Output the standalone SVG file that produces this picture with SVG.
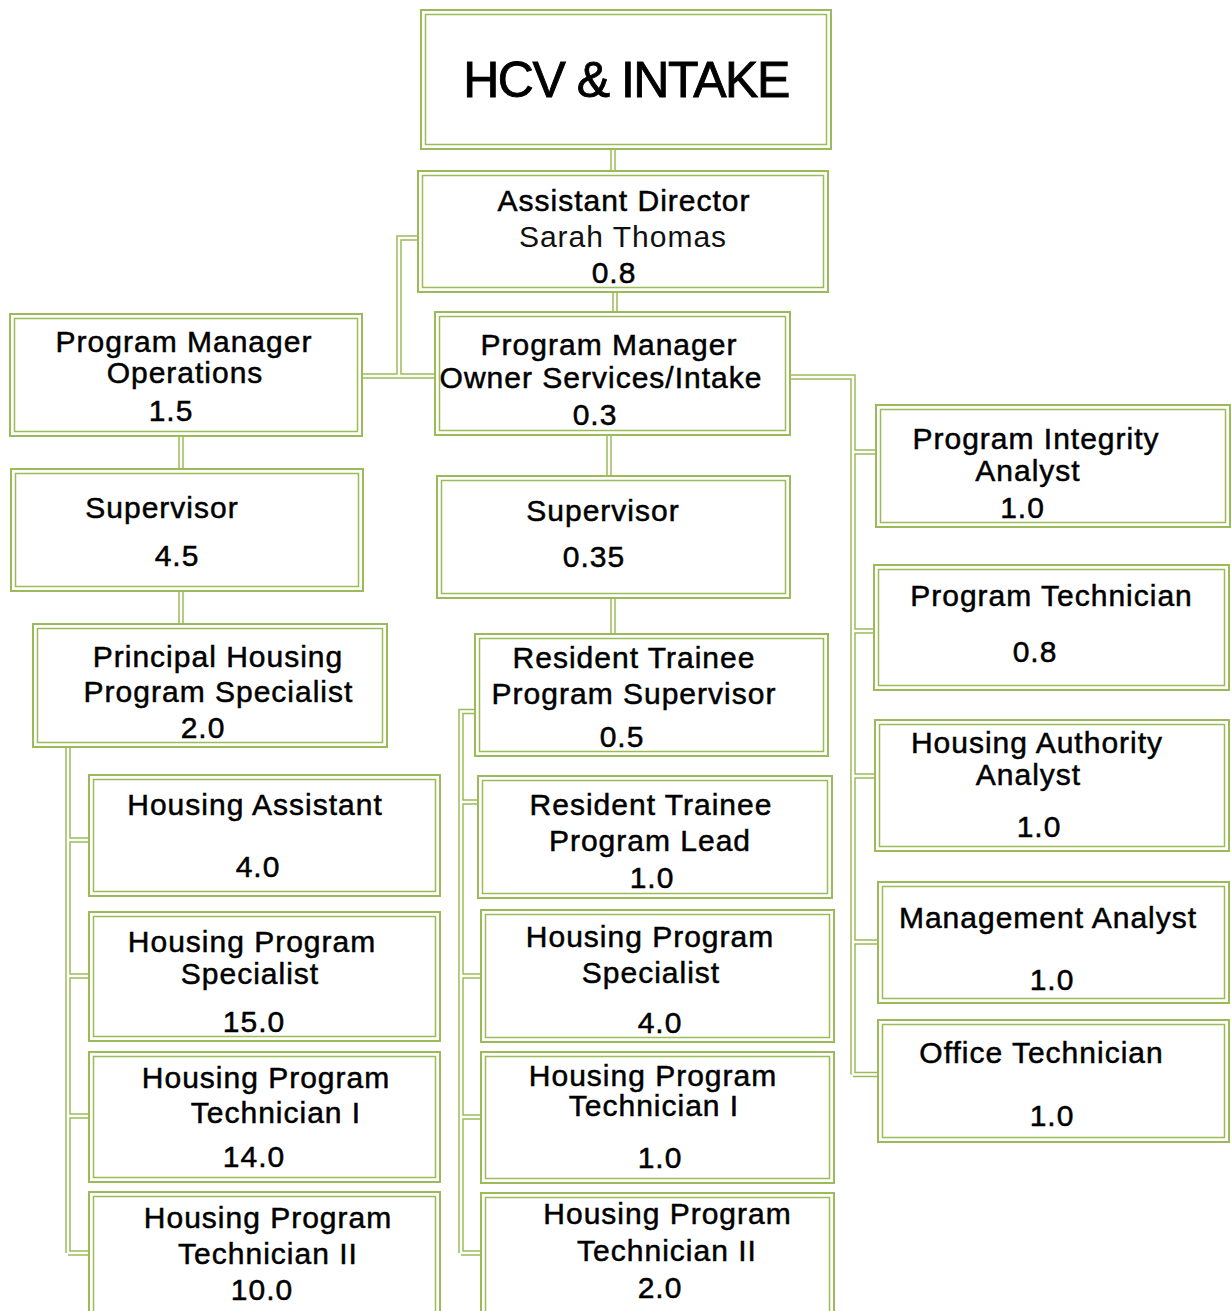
<svg xmlns="http://www.w3.org/2000/svg" width="1231" height="1311" viewBox="0 0 1231 1311">
<style>
.bo{fill:#fff;stroke:#9bbb59;stroke-width:2}
.bi{fill:none;stroke:#9bbb59;stroke-width:1.5}
.co{fill:none;stroke:#9bbb59;stroke-width:5.5;stroke-linejoin:miter}
.ci{fill:none;stroke:#fff;stroke-width:2.5;stroke-linejoin:miter}
text{font-family:"Liberation Sans",Arial,sans-serif;font-size:30px;letter-spacing:1px;text-anchor:middle;fill:#000;stroke:#000;stroke-width:0.5}
.title{font-size:50px;letter-spacing:-1.5px;stroke-width:0.9}
.name{stroke:none;fill:#111}
</style>
<defs>
<path id="conn" d="M613,150V170 M615,293V311 M418,238H399V376 M363,376H434 M181,437V468 M181,592V623 M68,748V1253 M68,840H88 M68,976H88 M68,1116H88 M68,1253H88 M609,436V475 M613,599V633 M474,711.5H461V1253 M461,802H477 M461,976H480 M461,1117H480 M461,1253H480 M791,377H853V1074.5 M853,452H875 M853,631H873 M853,776H874 M853,942H877 M853,1074.5H877"/>
</defs>
<g id="connectors">
<use href="#conn" class="co"/>
<use href="#conn" class="ci"/>
</g>
<g id="hcv"><rect class="bo" x="421" y="10" width="410" height="139"/><rect class="bi" x="425.5" y="14.5" width="401" height="130"/>
<text class="title" x="626" y="97">HCV &amp; INTAKE</text></g>
<g id="ad"><rect class="bo" x="418" y="171" width="410" height="121"/><rect class="bi" x="422.5" y="175.5" width="401" height="112"/>
<text x="624" y="211">Assistant Director</text><text class="name" x="623" y="247">Sarah Thomas</text><text x="614" y="283">0.8</text></g>
<g id="pmops"><rect class="bo" x="10" y="314" width="352" height="122"/><rect class="bi" x="14.5" y="318.5" width="343" height="113"/>
<text x="184" y="352">Program Manager</text><text x="185" y="383">Operations</text><text x="171" y="421">1.5</text></g>
<g id="pmown"><rect class="bo" x="435" y="312" width="355" height="123"/><rect class="bi" x="439.5" y="316.5" width="346" height="114"/>
<text x="609" y="355">Program Manager</text><text x="601" y="388">Owner Services/Intake</text><text x="595" y="425">0.3</text></g>
<g id="supL"><rect class="bo" x="11" y="469" width="352" height="122"/><rect class="bi" x="15.5" y="473.5" width="343" height="113"/>
<text x="162" y="518">Supervisor</text><text x="177" y="566">4.5</text></g>
<g id="supM"><rect class="bo" x="437" y="476" width="353" height="122"/><rect class="bi" x="441.5" y="480.5" width="344" height="113"/>
<text x="603" y="521">Supervisor</text><text x="594" y="567">0.35</text></g>
<g id="phps"><rect class="bo" x="33" y="624" width="354" height="123"/><rect class="bi" x="37.5" y="628.5" width="345" height="114"/>
<text x="218" y="667">Principal Housing</text><text x="218.5" y="702">Program Specialist</text><text x="203" y="738">2.0</text></g>
<g id="rtps"><rect class="bo" x="475" y="634" width="353" height="122"/><rect class="bi" x="479.5" y="638.5" width="344" height="113"/>
<text x="634" y="668">Resident Trainee</text><text x="634" y="704">Program Supervisor</text><text x="622" y="747">0.5</text></g>
<g id="ha"><rect class="bo" x="89" y="775" width="351" height="121"/><rect class="bi" x="93.5" y="779.5" width="342" height="112"/>
<text x="255" y="815">Housing Assistant</text><text x="258" y="877">4.0</text></g>
<g id="hpsL"><rect class="bo" x="89" y="912" width="351" height="129"/><rect class="bi" x="93.5" y="916.5" width="342" height="120"/>
<text x="252" y="952">Housing Program</text><text x="250" y="984">Specialist</text><text x="254" y="1032">15.0</text></g>
<g id="hpt1L"><rect class="bo" x="89" y="1052" width="351" height="130"/><rect class="bi" x="93.5" y="1056.5" width="342" height="121"/>
<text x="266" y="1088">Housing Program</text><text x="276" y="1123">Technician I</text><text x="254" y="1167">14.0</text></g>
<g id="hpt2L"><rect class="bo" x="89" y="1192" width="351" height="140"/><rect class="bi" x="93.5" y="1196.5" width="342" height="131"/>
<text x="268" y="1228">Housing Program</text><text x="268" y="1264">Technician II</text><text x="262" y="1300">10.0</text></g>
<g id="rtpl"><rect class="bo" x="478" y="776" width="354" height="122"/><rect class="bi" x="482.5" y="780.5" width="345" height="113"/>
<text x="651" y="815">Resident Trainee</text><text x="650" y="851">Program Lead</text><text x="652" y="888">1.0</text></g>
<g id="hpsM"><rect class="bo" x="481" y="910" width="353" height="132"/><rect class="bi" x="485.5" y="914.5" width="344" height="123"/>
<text x="650" y="947">Housing Program</text><text x="651" y="983">Specialist</text><text x="660" y="1033">4.0</text></g>
<g id="hpt1M"><rect class="bo" x="481" y="1052" width="353" height="131"/><rect class="bi" x="485.5" y="1056.5" width="344" height="122"/>
<text x="653" y="1086">Housing Program</text><text x="654" y="1116">Technician I</text><text x="660" y="1168">1.0</text></g>
<g id="hpt2M"><rect class="bo" x="481" y="1193" width="353" height="140"/><rect class="bi" x="485.5" y="1197.5" width="344" height="131"/>
<text x="667.5" y="1224">Housing Program</text><text x="667" y="1261">Technician II</text><text x="660" y="1298">2.0</text></g>
<g id="pia"><rect class="bo" x="876" y="405" width="354" height="122"/><rect class="bi" x="880.5" y="409.5" width="345" height="113"/>
<text x="1036" y="449">Program Integrity</text><text x="1028" y="481">Analyst</text><text x="1022.5" y="518">1.0</text></g>
<g id="pt"><rect class="bo" x="874" y="565" width="355" height="125"/><rect class="bi" x="878.5" y="569.5" width="346" height="116"/>
<text x="1051.5" y="606">Program Technician</text><text x="1035" y="662">0.8</text></g>
<g id="haa"><rect class="bo" x="875" y="720" width="354" height="131"/><rect class="bi" x="879.5" y="724.5" width="345" height="122"/>
<text x="1037" y="753">Housing Authority</text><text x="1028.5" y="785">Analyst</text><text x="1039" y="837">1.0</text></g>
<g id="ma"><rect class="bo" x="878" y="882" width="351" height="121"/><rect class="bi" x="882.5" y="886.5" width="342" height="112"/>
<text x="1048" y="928">Management Analyst</text><text x="1052" y="990">1.0</text></g>
<g id="ot"><rect class="bo" x="878" y="1020" width="351" height="122"/><rect class="bi" x="882.5" y="1024.5" width="342" height="113"/>
<text x="1041.5" y="1063">Office Technician</text><text x="1052" y="1126">1.0</text></g>
</svg>
